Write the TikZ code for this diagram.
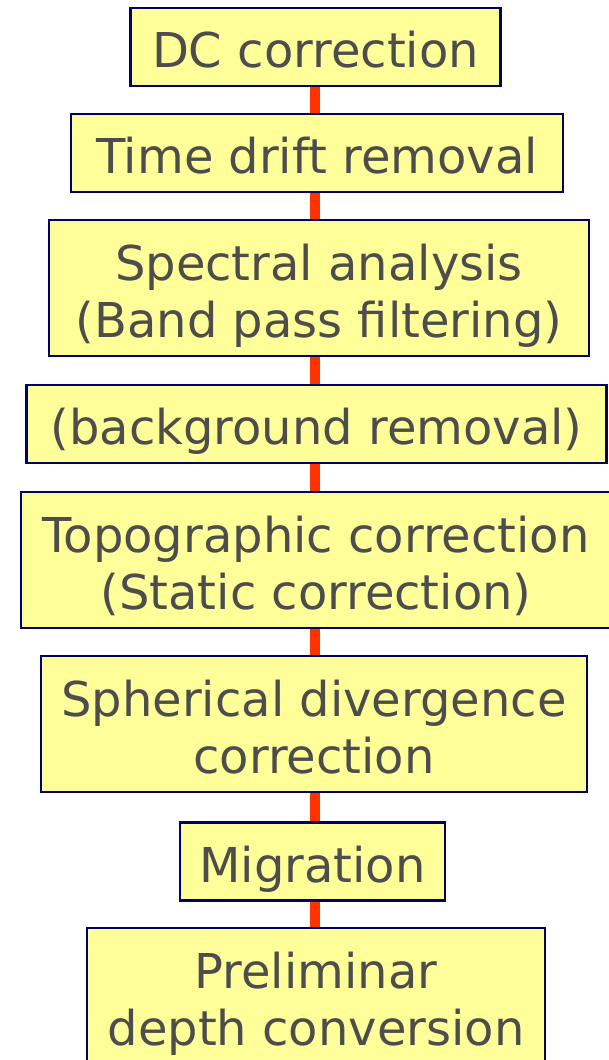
\documentclass[tikz,border=0pt]{standalone}
\usepackage{fontspec}
\setmainfont{DejaVu Sans}
\definecolor{boxfill}{HTML}{FFFF99}
\definecolor{boxline}{HTML}{000066}
\definecolor{txtgray}{HTML}{4D4D4D}
\definecolor{connred}{HTML}{FF3300}
\newcommand{\steptext}[1]{\raisebox{0pt}[\dimexpr\height+19pt\relax][\depth]{\begin{tabular}{@{}c@{}}#1\end{tabular}}}
\begin{document}
\begin{tikzpicture}[x=1pt,y=-1pt,
  stepbox/.style={draw=boxline, line width=2.2pt, fill=boxfill, inner sep=0pt,
    text=txtgray, font=\fontsize{48}{56.5}\selectfont},
  conn/.style={draw=connred, line width=10pt}]
\useasboundingbox (0,0) rectangle (609,1060);
\clip (0,0) rectangle (609,1060);
\renewcommand{\arraystretch}{1}
\coordinate (axis) at (315,0);
\node[stepbox, minimum width=370pt, minimum height=78pt] (dc) at (315.5,47) {\steptext{DC correction}};
\node[stepbox, minimum width=492pt, minimum height=78pt] (td) at (317,153) {\steptext{Time drift removal}};
\node[stepbox, minimum width=540pt, minimum height=136pt] (sa) at (319,288) {\steptext{Spectral analysis\\(Band pass filtering)}};
\node[stepbox, minimum width=580pt, minimum height=78pt] (bg) at (316.5,424) {\steptext{(background removal)}};
\node[stepbox, minimum width=590pt, minimum height=136pt] (tc) at (316,560) {\steptext{Topographic correction\\(Static correction)}};
\node[stepbox, minimum width=546pt, minimum height=136pt] (sd) at (314,724) {\steptext{Spherical divergence\\correction}};
\node[stepbox, minimum width=265pt, minimum height=78pt] (mg) at (312.5,861.5) {\steptext{Migration}};
\node[stepbox, minimum width=458pt, minimum height=136pt] (pd) at (316,996) {\steptext{Preliminar\\depth conversion}};
\draw[conn] (dc.south -| axis) -- (td.north -| axis);
\draw[conn] (td.south -| axis) -- (sa.north -| axis);
\draw[conn] (sa.south -| axis) -- (bg.north -| axis);
\draw[conn] (bg.south -| axis) -- (tc.north -| axis);
\draw[conn] (tc.south -| axis) -- (sd.north -| axis);
\draw[conn] (sd.south -| axis) -- (mg.north -| axis);
\draw[conn] (mg.south -| axis) -- (pd.north -| axis);
\end{tikzpicture}
\end{document}
